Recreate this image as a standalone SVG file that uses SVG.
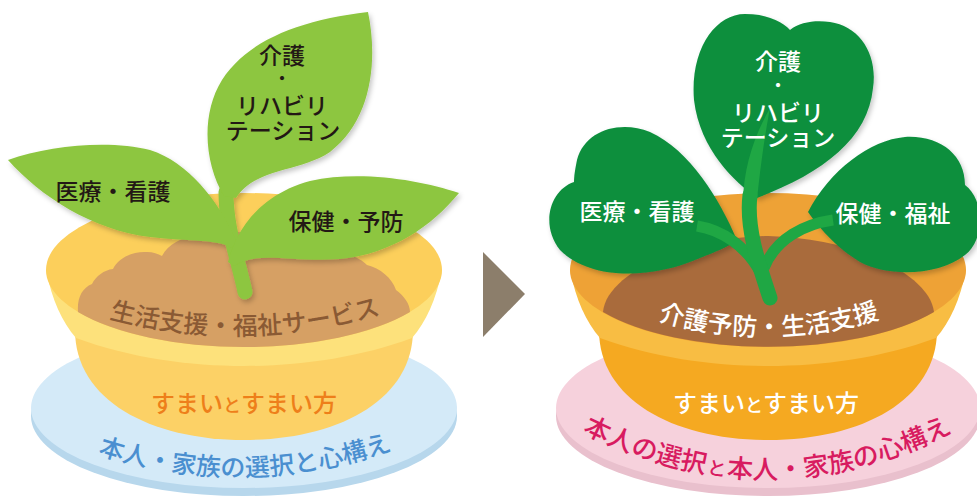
<svg xmlns="http://www.w3.org/2000/svg" width="977" height="496" viewBox="0 0 977 496">
  <defs>
    <style>
      .jp { font-family: "Noto Sans CJK JP", "Noto Sans", sans-serif; font-weight: 500; }
      .leaf-dark { font-size: 23px; fill: #231815; text-anchor: middle; }
      .leaf-white { font-size: 23px; fill: #ffffff; text-anchor: middle; }
      .dot { font-size: 18px; }
      .soil-txt { font-size: 25px; text-anchor: middle; }
      .pot-txt { font-size: 24px; }
      .small { font-size: 18px; }
      .saucer-txt { font-size: 25px; text-anchor: middle; }
      .saucer-r { font-size: 26px; }
      .saucer-r-small { font-size: 19px; }
    </style>
    <filter id="leafShadow" x="-10%" y="-10%" width="130%" height="130%">
      <feDropShadow dx="2" dy="3" stdDeviation="2.5" flood-color="#000" flood-opacity="0.22"/>
    </filter>
    <path id="arcSoilL" d="M 100,316 Q 244,356 390,312"/>
    <path id="arcSaucerL" d="M 92,452 Q 244,503 398,448"/>
    <path id="arcSoilR" d="M 650,318 Q 768,355 888,316"/>
    <path id="arcSaucerR" d="M 575,428 Q 770,532 968,424"/>
  </defs>

  <rect width="977" height="496" fill="#ffffff"/>

  <!-- ===== Left: current state ===== -->
  <g id="left-saucer">
    <ellipse cx="244" cy="416" rx="213" ry="80" fill="#b7d7ec"/>
    <ellipse cx="244" cy="408" rx="213" ry="80" fill="#d4eaf8"/>
    <text class="jp saucer-txt" fill="#4a8fd0"><textPath href="#arcSaucerL" startOffset="50%">本人・家族の選択と心構え</textPath></text>
  </g>

  <g id="left-pot">
    <path d="M 75,330 C 75,400 150,440 244,440 C 338,440 413,400 413,330 Z" fill="#fcd166"/>
    <path d="M 46,270 C 52,300 62,322 76,338 C 130,358 190,366 244,366 C 298,366 358,358 412,338 C 426,322 436,300 442,270 Z" fill="#fde17b"/>
    <ellipse cx="244" cy="270" rx="198" ry="77" fill="#fccf5b"/>
    <path d="M 78,312 C 77,298 82,288 92,284 C 96,276 104,270 113,269 C 118,258 133,251 147,252 C 153,252 158,254 162,256 C 168,244 182,237 197,236 C 210,234 222,233 232,232 C 260,232 300,238 340,252 C 355,256 362,260 367,265 C 380,268 392,278 396,290 C 404,296 410,304 410,312 A 198 77 0 0 1 78,312 Z" fill="#d6a064"/>
    <text class="jp soil-txt" fill="#8a5a34"><textPath href="#arcSoilL" startOffset="50%">生活支援・福祉サービス</textPath></text>
    <g class="jp" fill="#ee7f1a">
      <text class="pot-txt" x="151" y="412">すまい</text>
      <text class="small" x="223" y="412">と</text>
      <text class="pot-txt" x="241" y="412">すまい方</text>
    </g>
  </g>

  <g id="left-plant" filter="url(#leafShadow)" fill="#8dc63f">
    <path d="M 226,192 C 226,230 238,258 245,292" fill="none" stroke="#8dc63f" stroke-width="15" stroke-linecap="round"/>
    <g id="left-leaf-care">
      <path d="M 224,196 C 205,165 200,115 222,80 C 248,40 300,20 368,12 C 378,60 372,120 330,152 C 300,172 255,168 236,198 Z"/>
    </g>
    <g id="left-leaf-medical">
      <path d="M 236,240 C 218,200 188,162 150,150 C 110,140 50,145 8,160 C 40,196 92,230 150,237 C 190,242 218,238 236,250 Z"/>
    </g>
    <g id="left-leaf-health">
      <path d="M 228,262 C 238,222 268,192 310,181 C 360,170 420,180 459,193 C 432,226 392,254 340,259 C 292,263 258,250 234,266 Z"/>
    </g>
  </g>
  <g id="left-leaf-labels" class="jp leaf-dark">
    <text x="282" y="64">介護</text>
    <text class="dot" x="282" y="85">・</text>
    <text x="282" y="114">リハビリ</text>
    <text x="283" y="139">テーション</text>
    <text x="113" y="200">医療・看護</text>
    <text x="346" y="230">保健・予防</text>
  </g>

  <!-- ===== Transition arrow ===== -->
  <g id="connectors">
    <polygon points="483,252 525,294 483,337" fill="#8c7e6b"/>
  </g>

  <!-- ===== Right: target state ===== -->
  <g id="right-saucer">
    <ellipse cx="768" cy="416" rx="212" ry="80" fill="#e9c0cd"/>
    <ellipse cx="768" cy="408" rx="212" ry="80" fill="#f6d1dc"/>
    <g class="jp" fill="#d81b60">
      <text class="saucer-r"><textPath href="#arcSaucerR" startOffset="8">本人の</textPath></text>
      <text class="saucer-r"><textPath href="#arcSaucerR" startOffset="86">選択</textPath></text>
      <text class="saucer-r-small"><textPath href="#arcSaucerR" startOffset="140">と</textPath></text>
      <text class="saucer-r"><textPath href="#arcSaucerR" startOffset="160">本人・家族の</textPath></text>
      <text class="saucer-r"><textPath href="#arcSaucerR" startOffset="316">心構え</textPath></text>
    </g>
  </g>

  <g id="right-pot">
    <g transform="translate(524,0)">
      <path d="M 75,330 C 75,400 150,440 244,440 C 338,440 413,400 413,330 Z" fill="#f5a921"/>
      <path d="M 46,270 C 52,300 62,322 76,338 C 130,358 190,366 244,366 C 298,366 358,358 412,338 C 426,322 436,300 442,270 Z" fill="#f8bd43"/>
      <ellipse cx="244" cy="270" rx="198" ry="77" fill="#eea236"/>
      <path d="M 79,312 C 82,275 156,238 244,236 C 332,238 406,275 410,312 A 198 77 0 0 1 79,312 Z" fill="#a96b3c"/>
    </g>
    <text class="jp soil-txt" fill="#ffffff"><textPath href="#arcSoilR" startOffset="50%">介護予防・生活支援</textPath></text>
    <g class="jp" fill="#ffffff">
      <text class="pot-txt" x="673" y="412">すまい</text>
      <text class="small" x="745" y="412">と</text>
      <text class="pot-txt" x="763" y="412">すまい方</text>
    </g>
  </g>

  <g id="right-plant">
    <g filter="url(#leafShadow)" fill="#0b8f3e">
      <g id="right-leaf-care">
        <path d="M 757,198 C 735,182 700,150 694,100 C 690,50 715,14 745,14 C 768,14 783,22 790,30 C 800,22 815,20 830,22 C 860,26 878,55 873,88 C 868,138 825,172 757,198 Z"/>
      </g>
      <g id="right-leaf-medical">
        <path d="M 737,240 C 720,200 690,150 650,132 C 620,120 585,130 577,160 C 575,170 574,176 574,182 C 550,190 540,225 560,250 C 590,280 650,280 700,258 C 715,252 728,247 737,240 Z"/>
      </g>
      <g id="right-leaf-welfare">
        <path d="M 808,212 C 830,170 870,140 905,137 C 940,135 965,155 965,185 C 985,200 985,240 965,255 C 940,275 890,278 860,262 C 840,250 822,232 808,212 Z"/>
      </g>
    </g>
    <g id="right-stems" fill="none" stroke="#1fa744" stroke-linecap="round">
      <path d="M 697,226 C 722,230 746,246 760,272" stroke-width="11" stroke-linecap="butt"/>
      <path d="M 833,220 C 805,224 776,238 764,268" stroke-width="11" stroke-linecap="butt"/>
      <path d="M 770,298 C 758,262 746,228 750,195" stroke-width="15"/>
      <path d="M 743,200 C 744,170 752,140 770,108 C 764,140 760,170 757,200 Z" fill="#1fa744" stroke="none"/>
    </g>
  </g>
  <g id="right-leaf-labels" class="jp leaf-white">
    <text x="778" y="70">介護</text>
    <text class="dot" x="778" y="92">・</text>
    <text x="778" y="121">リハビリ</text>
    <text x="778" y="146">テーション</text>
    <text x="637" y="220">医療・看護</text>
    <text x="893" y="222">保健・福祉</text>
  </g>
</svg>
